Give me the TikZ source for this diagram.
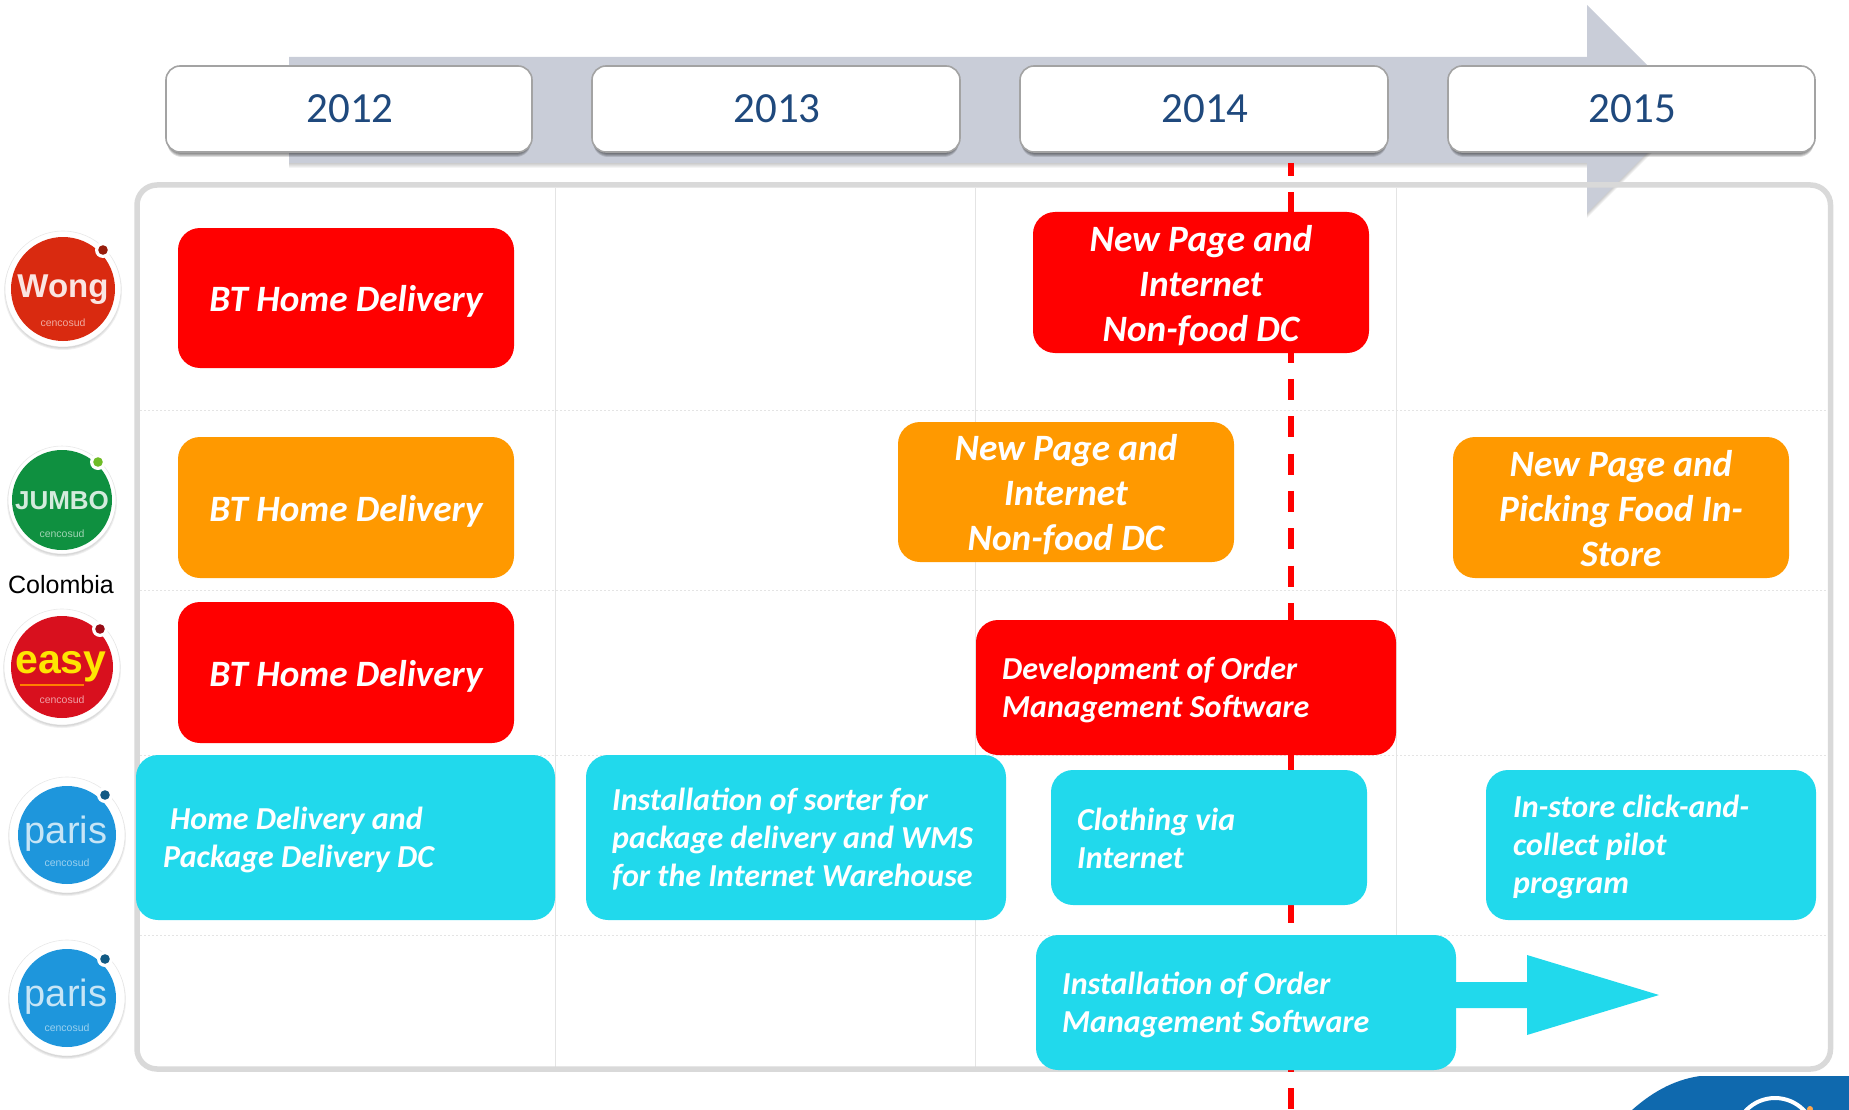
\documentclass[tikz,border=0pt]{standalone}
\usepackage{fontspec}
\setmainfont{Carlito}
\newfontfamily\arialf{Liberation Sans}
\usetikzlibrary{calc}
\definecolor{cred}{HTML}{FF0000}
\definecolor{corange}{HTML}{FF9900}
\definecolor{ccyan}{HTML}{21D9EC}
\definecolor{cframe}{HTML}{D9D9D9}
\definecolor{carrow}{HTML}{C9CDD8}
\definecolor{cyear}{HTML}{1F497D}
\definecolor{cgrid}{HTML}{E4E4E4}
\definecolor{clogo}{HTML}{0F69AE}
\definecolor{cparis}{HTML}{1E96DC}
\definecolor{cwong}{HTML}{D92A10}
\definecolor{cjumbo}{HTML}{0F9040}
\definecolor{ceasy}{HTML}{D8101E}
\tikzset{
  x=1pt,y=-1pt,
  yearbox/.style={draw=black!36,line width=1.6pt,fill=white,rounded corners=14pt},
  yeartext/.style={text=cyear,font=\fontsize{43}{43}\selectfont,inner sep=0pt,anchor=center},
  task/.style={rounded corners=22pt,text=white,font=\fontsize{37.2}{45}\selectfont\bfseries\itshape,align=center,inner sep=0pt,anchor=center},
  taskl/.style={rounded corners=22pt,text=white,font=\fontsize{32}{38}\selectfont\bfseries\itshape,align=left,inner sep=0pt,anchor=center},
  griddot/.style={cgrid,line width=.8pt,dash pattern=on 2pt off 2pt},
  gridv/.style={cgrid,line width=1pt},
  logotext/.style={inner sep=0pt,anchor=center},
  logosub/.style={inner sep=0pt,anchor=center,font=\arialf\fontsize{10.5}{10.5}\selectfont},
}
% centre x, centre y, outer radius, inner radius, colour, dot x, dot y, dot colour
\newcommand{\logodisc}[8]{%
  \foreach \s in {0,1,2}{\fill[black,opacity=.06] (#1,{#2+2}) circle ({(#3+\s-1)*1pt});}
  \fill[white] (#1,#2) circle ({#3*1pt});
  \draw[black!15,line width=.6pt,opacity=.6] (#1,#2) circle ({#3*1pt});
  \fill[#5] (#1,#2) circle ({#4*1pt});
  \fill[white] (#6,#7) circle (8pt);
  \fill[#8] (#6,#7) circle (4.8pt);
}
\begin{document}
\begin{tikzpicture}
\useasboundingbox (0,0) rectangle (1849,1110);
% big arrow with soft shadow
\foreach \s in {1,2,3,4,5}{
  \fill[black,opacity=.045,shift={(0,\s)}] (289,57) -- (1587,57) -- (1587,5) -- (1691,109) -- (1587,213) -- (1587,163) -- (289,163) -- cycle;
}
\fill[carrow] (289,57) -- (1587,57) -- (1587,5) -- (1691,109) -- (1587,213) -- (1587,163) -- (289,163) -- cycle;
% grid
\coordinate (gv1t) at (555,188); \coordinate (gv1b) at (555,1068);
\coordinate (gv2t) at (975,188); \coordinate (gv2b) at (975,1068);
\coordinate (gv3t) at (1396,188); \coordinate (gv3b) at (1396,1068);
\draw[gridv] (gv1t) -- (gv1b);
\draw[gridv] (gv2t) -- (gv2b);
\draw[gridv] (gv3t) -- (gv3b);
\coordinate (gh1l) at (140,410); \coordinate (gh1r) at (1828,410);
\coordinate (gh2l) at (140,590); \coordinate (gh2r) at (1828,590);
\coordinate (gh3l) at (140,755); \coordinate (gh3r) at (1828,755);
\coordinate (gh4l) at (140,935); \coordinate (gh4r) at (1828,935);
\draw[griddot] (gh1l) -- (gh1r);
\draw[griddot] (gh2l) -- (gh2r);
\draw[griddot] (gh3l) -- (gh3r);
\draw[griddot] (gh4l) -- (gh4r);
% frame
\draw[cframe,line width=5.5pt,rounded corners=20pt] (137,185) rectangle (1830.5,1069);
% year boxes
\foreach \nm/\a/\b/\t in {y12/166/532/2012,y13/592/960/2013,y14/1020/1388/2014,y15/1448/1815/2015}{
  \foreach \s in {0,1,2,3,4}{
    \fill[black,opacity=.13,rounded corners=15pt] ({\a+1},{66}) rectangle ({\b-1},{152+\s+1});
  }
  \path[yearbox] (\a,66) rectangle (\b,152);
  \node[yeartext] (\nm) at ({(\a+\b)/2+1},109) {\t};
}
% dashed line
\coordinate (dtop) at (1291,163); \coordinate (dbot) at (1291,1110);
\draw[cred,line width=5.5pt,dash pattern=on 21pt off 16.33pt,dash phase=8pt] (dtop) -- (dbot);
% tasks
\path[task,fill=cred] (178,228) rectangle (514,368);
\node[task] (a1) at (346,301) {BT Home Delivery};
\path[task,fill=cred] (1033,212) rectangle (1369,353);
\node[task] (a2) at (1201,286) {New Page and\\Internet\\Non-food DC};
\path[task,fill=corange] (178,437) rectangle (514,578);
\node[task] (b1) at (346,511) {BT Home Delivery};
\path[task,fill=corange] (898,422) rectangle (1234,562);
\node[task] (b2) at (1066,495) {New Page and\\Internet\\Non-food DC};
\path[task,fill=corange] (1453,437) rectangle (1789,578);
\node[task] (b3) at (1621,509) {New Page and\\Picking Food In-\\Store};
\path[task,fill=cred] (178,602) rectangle (514,743);
\node[task] (c1) at (346,676) {BT Home Delivery};
\path[task,fill=cred] (976,620) rectangle (1396,755);
\node[taskl,anchor=west] (c2) at (1002,690) {Development of Order\\Management Software};
\path[task,fill=ccyan] (136,755) rectangle (555,920);
\node[taskl,anchor=west] (d1) at (163,840) {\hspace*{7pt}Home Delivery and\\Package Delivery DC};
\path[task,fill=ccyan] (586,755) rectangle (1006,920);
\node[taskl,anchor=west] (d2) at (612,839) {Installation of sorter for\\package delivery and WMS\\for the Internet Warehouse};
\path[task,fill=ccyan] (1051,770) rectangle (1367,905);
\node[taskl,anchor=west] (d3) at (1077,838) {Clothing via\\Internet};
\path[task,fill=ccyan] (1486,770) rectangle (1816,920);
\node[taskl,anchor=west] (d4) at (1513,847) {In-store click-and-\\collect pilot\\program};
\fill[ccyan] (1450,982) -- (1527,982) -- (1527,955) -- (1659,995) -- (1527,1035) -- (1527,1008) -- (1450,1008) -- cycle;
\path[task,fill=ccyan] (1036,935) rectangle (1456,1070);
\node[taskl,anchor=west] (e1) at (1062,1005) {Installation of Order\\Management Software};
% logos
\logodisc{63}{289}{58}{52}{cwong}{103}{250}{cwong!70!black}
\node[logotext,text=white!88!cwong,font=\arialf\bfseries\fontsize{33}{33}\selectfont] (lw) at (63,290) {Wong};
\node[logosub,text=white!60!cwong] (lws) at (63,323) {cencosud};
\logodisc{62}{500}{54}{50}{cjumbo}{98}{462}{cjumbo!60!yellow}
\node[logotext,text=white!82!cjumbo,font=\arialf\bfseries\fontsize{26}{26}\selectfont] (lj) at (62,501) {JUMBO};
\node[logosub,text=white!60!cjumbo] (ljs) at (62,534) {cencosud};
\node[font=\arialf\fontsize{25}{25}\selectfont,text=black,inner sep=0pt] (colombia) at (61,585) {Colombia};
\logodisc{62}{667}{58}{51}{ceasy}{100}{629}{ceasy!70!black}
\node[logotext,text=yellow!88!orange,font=\arialf\bfseries\fontsize{41}{41}\selectfont] (le) at (61,667) {easy};
\coordinate (eul) at (20,685); \coordinate (eur) at (84,685);
\draw[orange,line width=2.5pt] (eul) -- (eur);
\node[logosub,text=white!60!ceasy] (les) at (62,700) {cencosud};
\logodisc{67}{835}{58}{49}{cparis}{105}{795}{cparis!60!black}
\node[logotext,text=white!75!cparis,font=\arialf\fontsize{38}{38}\selectfont] (lp1) at (66,834) {paris};
\node[logosub,text=white!55!cparis] (lp1s) at (67,863) {cencosud};
\logodisc{67}{998}{58}{49}{cparis}{105}{959}{cparis!60!black}
\node[logotext,text=white!75!cparis,font=\arialf\fontsize{38}{38}\selectfont] (lp2) at (66,997) {paris};
\node[logosub,text=white!55!cparis] (lp2s) at (67,1028) {cencosud};
% corner logo
\begin{scope}
\clip (1560,1076) rectangle (1849,1110);
\fill[clogo] (1632,1110) .. controls (1650,1094) and (1672,1080) .. (1700,1076) -- (1849,1076) -- (1849,1110) -- cycle;
\draw[white,line width=4pt] (1775,1138) circle (40pt);
\fill[orange!70!white] (1810,1109) circle (3pt);
\end{scope}
\end{tikzpicture}
\end{document}
